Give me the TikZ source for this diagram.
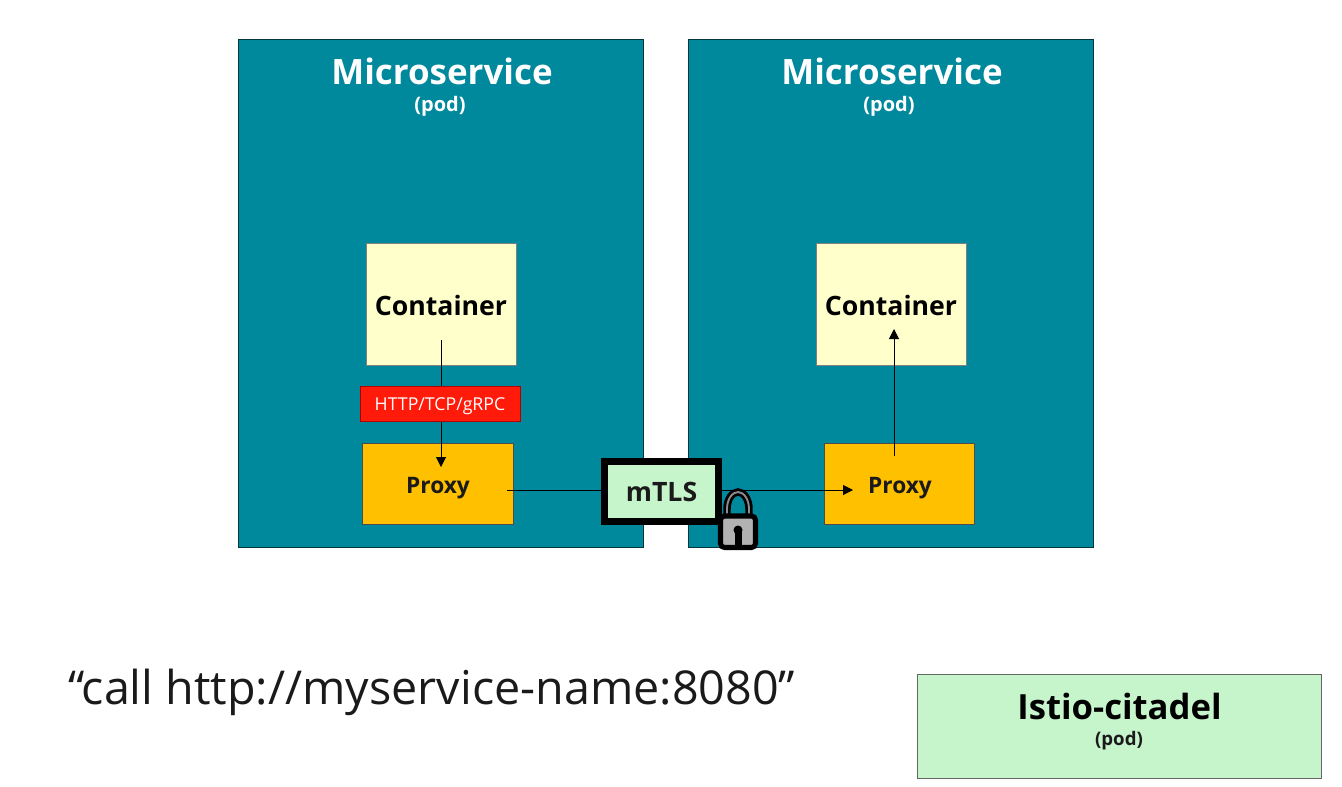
\documentclass[tikz,border=0pt]{standalone}
\usepackage{fontspec}
\setmainfont{Open Sans}
\usetikzlibrary{arrows.meta}
\definecolor{teal1}{HTML}{00889C}
\definecolor{cream}{HTML}{FFFFCC}
\definecolor{amber}{HTML}{FFC000}
\definecolor{mint}{HTML}{C6F4CB}
\definecolor{redbox}{HTML}{FF1A0A}
\definecolor{txt}{HTML}{1A1A1A}
\tikzset{
  x=0.75pt,y=-0.75pt,
  pod/.style={draw=black!60!teal1,line width=0.6pt,fill=teal1,minimum width=405*0.75pt,minimum height=508*0.75pt,inner sep=0pt},
  ctr/.style={draw=black!50,line width=0.5pt,fill=cream,minimum width=150*0.75pt,minimum height=122*0.75pt,inner sep=0pt},
  ctrtext/.style={font=\bfseries\fontsize{20}{24}\selectfont,text=black,inner sep=0pt},
  prx/.style={draw=black!70,line width=0.5pt,fill=amber,minimum height=81*0.75pt,inner sep=0pt},
  prxtext/.style={font=\bfseries\fontsize{17}{20}\selectfont,text=txt,inner sep=0pt},
  title/.style={font=\bfseries\fontsize{26.2}{30}\selectfont,text=white,inner sep=0pt},
  sub/.style={font=\bfseries\fontsize{15}{18}\selectfont,text=white,inner sep=0pt},
  link/.style={line width=0.75pt,draw=black,-{Triangle[length=7.5pt,width=7.5pt]}},
  plain/.style={line width=0.75pt,draw=black},
}
\begin{document}
\begin{tikzpicture}
\useasboundingbox (0,0) rectangle (1342,786);
\node[pod] (podL) at (440.5,293.7) {};
\node[pod] (podR) at (891,293.7) {};
\node[title] (tL) at (442,71) {Microservice};
\node[sub] (sL) at (440,106) {(pod)};
\node[title] (tR) at (892,71) {Microservice};
\node[sub] (sR) at (889,106) {(pod)};
\node[ctr] (cL) at (441,304) {};
\node[ctr] (cR) at (891,304) {};
\node[ctrtext] (cLt) at (441,305) {Container};
\node[ctrtext] (cRt) at (891,305) {Container};
\node[prx,minimum width=151*0.75pt] (pL) at (438,484) {};
\node[prx,minimum width=150*0.75pt] (pR) at (899.5,484) {};
\node[prxtext] (pLt) at (438,488) {Proxy};
\node[prxtext] (pRt) at (900,488) {Proxy};
\coordinate (cLa) at (441,340);
\coordinate (pLa) at (441,467);
\draw[link] (cLa) -- (pLa);
\node[draw=red!70!black,line width=0.4pt,fill=redbox,minimum width=160*0.75pt,minimum height=35*0.75pt,inner sep=0pt] (http) at (440,404) {};
\node[text=white,font=\fontsize{13.3}{16}\selectfont,inner sep=0pt] (httpt) at (440,406) {HTTP/TCP/gRPC};
\coordinate (pRa) at (894,456);
\coordinate (cRa) at (894,329);
\draw[link] (pRa) -- (cRa);
\coordinate (pLb) at (507,490);
\coordinate (pRb) at (853,490);
\draw[plain] (pLb) -- (610,490);
\draw[link] (715,490) -- (pRb);
\node[draw=black,line width=5.25pt,fill=mint,minimum width=114*0.75pt,minimum height=60*0.75pt,inner sep=0pt] (mtls) at (661,491) {};
\node[font=\bfseries\fontsize{20}{24}\selectfont,text=txt,inner sep=0pt] (mtlst) at (661.5,492) {mTLS};
% lock
\draw[line width=5.6pt,draw=black] (727,520) -- (727,509) arc[start angle=180,end angle=360,x radius=11,y radius=17] -- (749,520);
\draw[line width=1.4pt,draw=black!45] (727,520) -- (727,509) arc[start angle=180,end angle=360,x radius=11,y radius=17] -- (749,520);
\draw[line width=3.8pt,draw=black,fill=black!30,rounded corners=3pt] (720.5,516) rectangle (755.5,547.5);
\fill[black] (738,530) circle[radius=4.5];
\fill[black] (734.5,530) rectangle (741.5,546);
\node[font=\fontsize{35}{42}\selectfont,text=txt,anchor=west,inner sep=0pt] (call) at (68,692) {“call http://myservice-name:8080”};
\node[draw=black!60,line width=0.6pt,fill=mint,minimum width=404*0.75pt,minimum height=104*0.75pt,inner sep=0pt] (ist) at (1119,726) {};
\node[font=\bfseries\fontsize{26}{31}\selectfont,text=black,inner sep=0pt] (istt) at (1119.5,706) {Istio-citadel};
\node[font=\bfseries\fontsize{14}{17}\selectfont,text=txt,inner sep=0pt] (ists) at (1119,741) {(pod)};
\end{tikzpicture}
\end{document}
